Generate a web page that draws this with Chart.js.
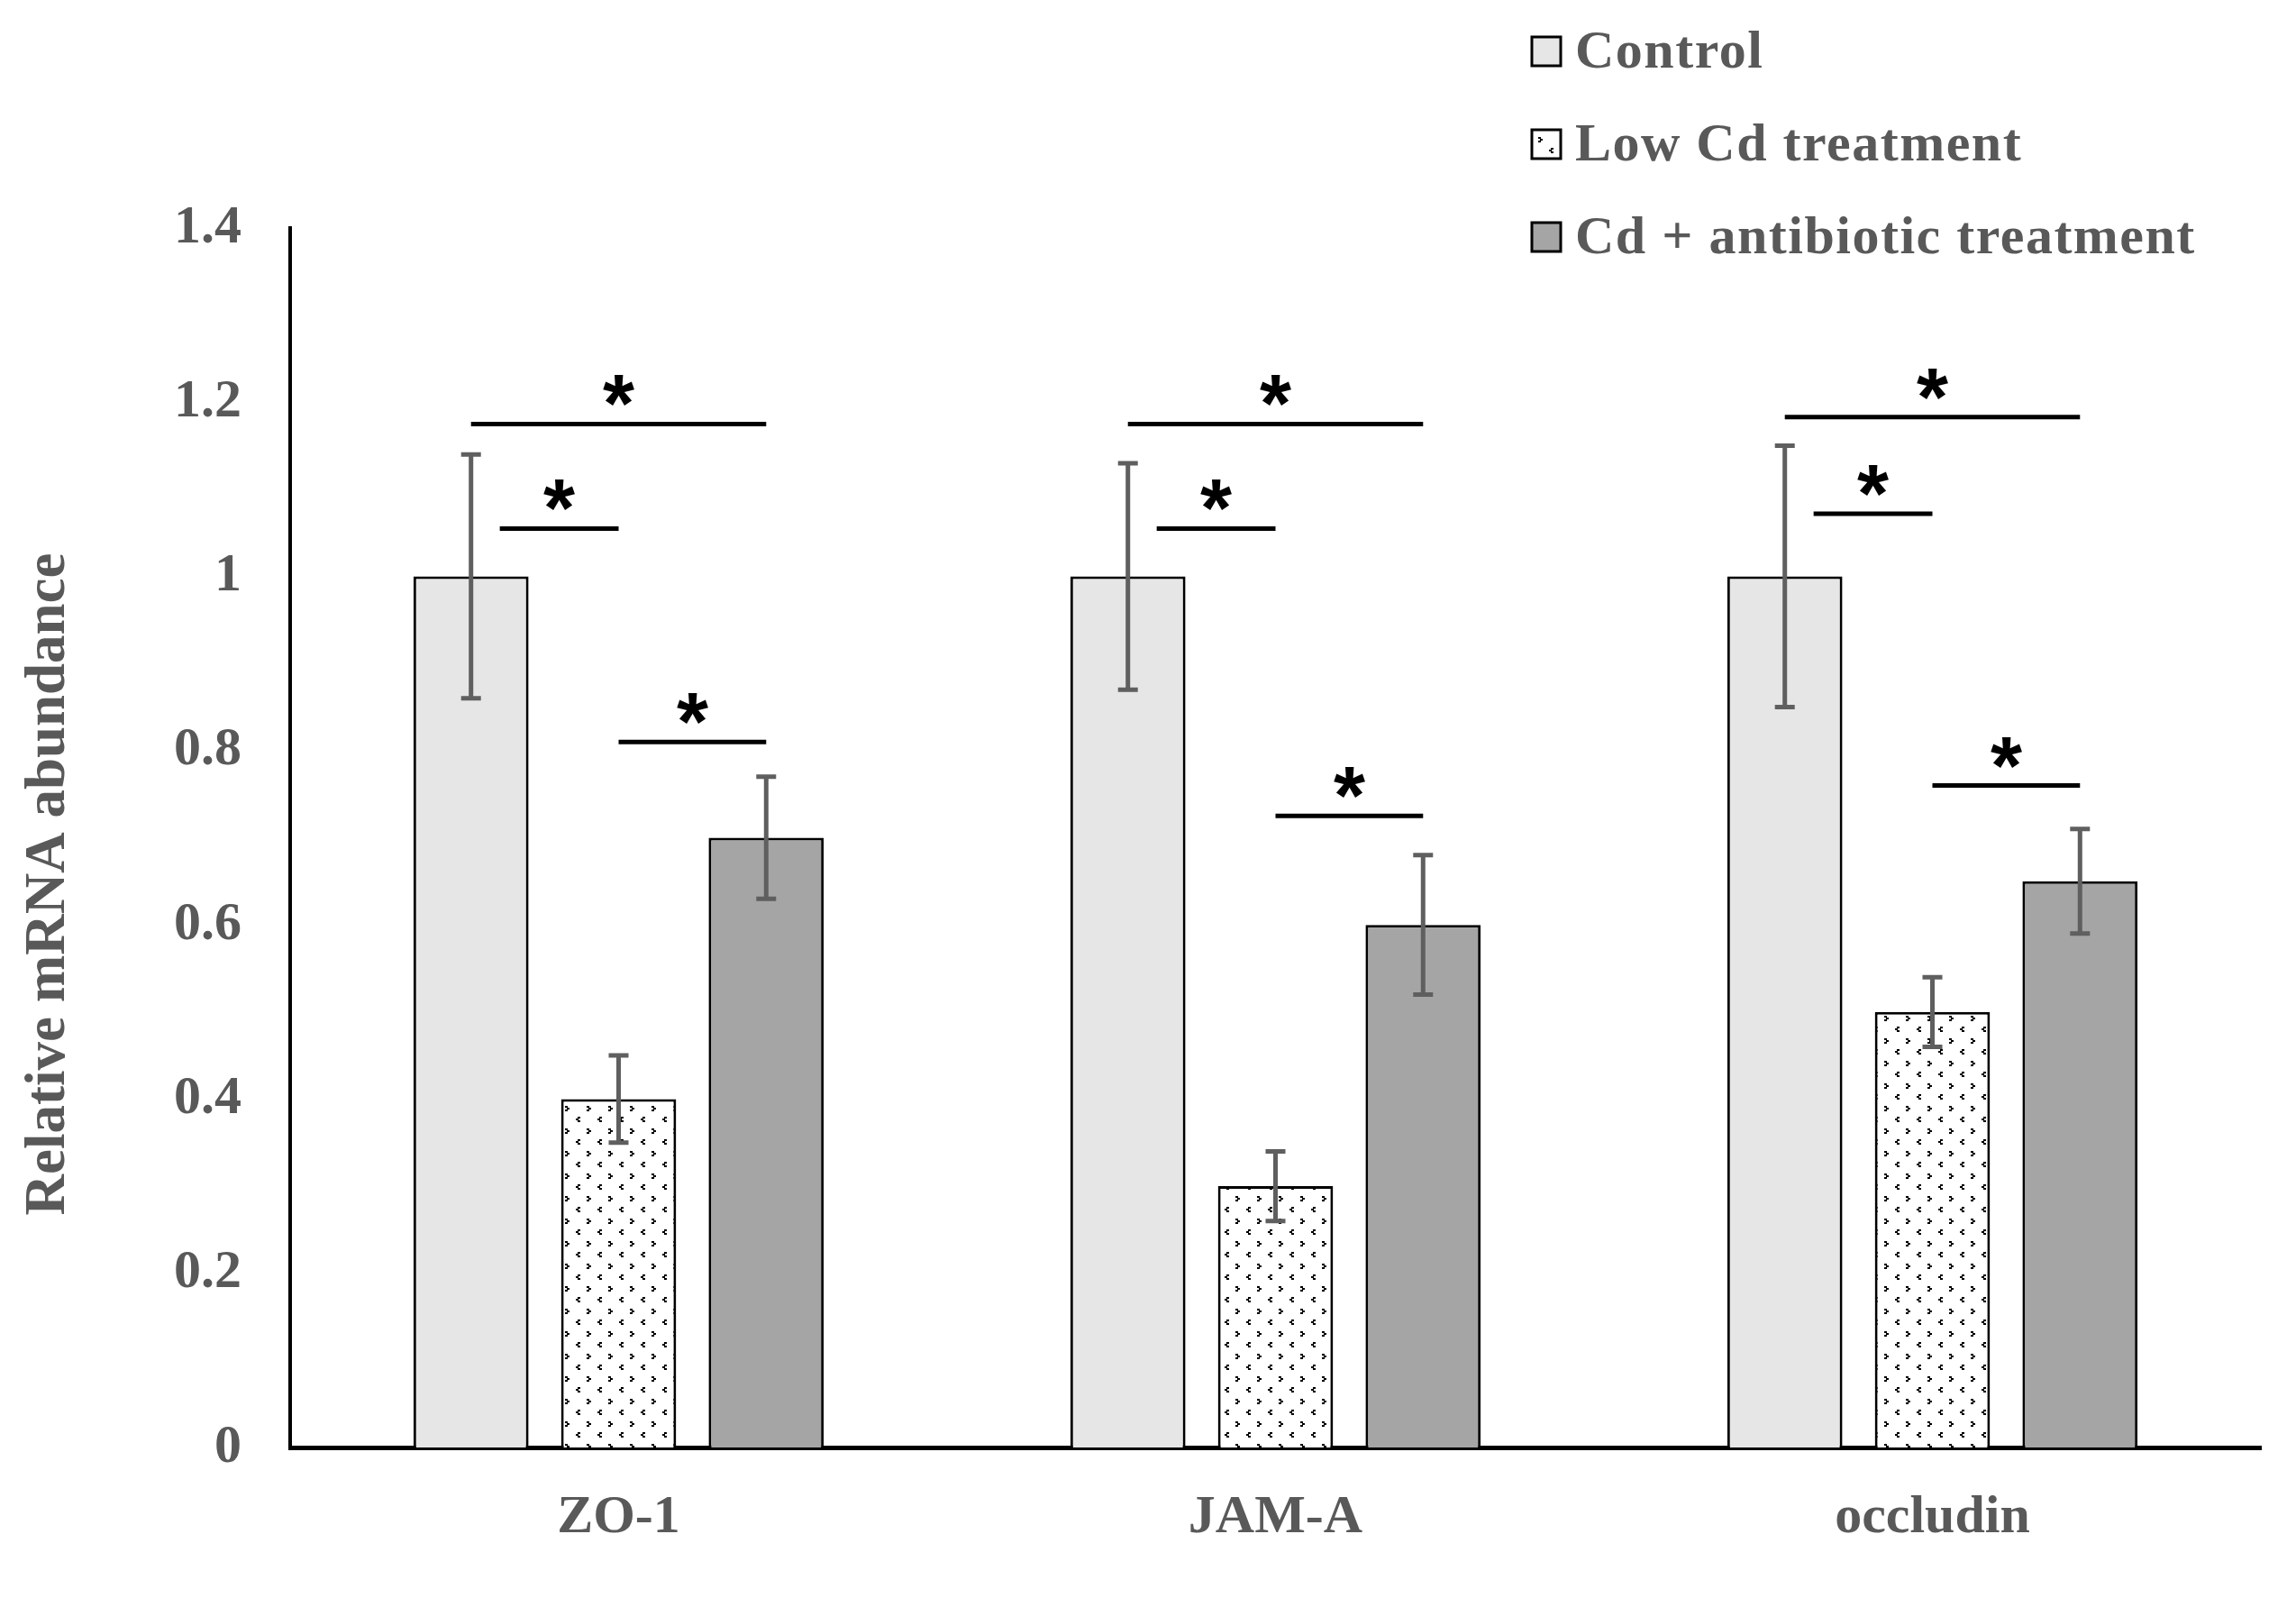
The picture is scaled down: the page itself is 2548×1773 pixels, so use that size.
<!DOCTYPE html>
<html>
<head>
<meta charset="utf-8">
<script src="https://cdn.jsdelivr.net/npm/chart.js@4/dist/chart.umd.min.js"></script>
<style>
  html, body { margin: 0; padding: 0; background: #fff; }
  canvas { display: block; }
</style>
</head>
<body>
<canvas id="grafico" width="2548" height="1773"></canvas>
<script>
/* ===== dados ===== */
const genes = ['ZO-1', 'JAM-A', 'occludin'];
const seriesNames = ['Control', 'Low Cd treatment', 'Cd + antibiotic treatment'];

const control = [1, 1, 1];
const controlErr = [0.14, 0.13, 0.15];
const lowCd = [0.4, 0.3, 0.5];
const lowCdErr = [0.05, 0.04, 0.04];
const cdAntibiotic = [0.7, 0.6, 0.65];
const cdAntibioticErr = [0.07, 0.08, 0.06];

const yTickLabels = ['0', '0.2', '0.4', '0.6', '0.8', '1', '1.2', '1.4'];
const yTitle = 'Relative mRNA abundance';

// [gene index, from series, to series, height]
const sigBars = [
  [0, 0, 2, 1.175], [0, 0, 1, 1.055], [0, 1, 2, 0.81],
  [1, 0, 2, 1.175], [1, 0, 1, 1.055], [1, 1, 2, 0.725],
  [2, 0, 2, 1.183], [2, 0, 1, 1.072], [2, 1, 2, 0.76]
];

const textGray = '#595959';
const serif = '"Liberation Serif", "Times New Roman", serif';

/* ===== padrão pontilhado da série Low Cd ===== */
function dotPattern() {
  const c = document.createElement('canvas');
  c.width = 24; c.height = 25;
  const g = c.getContext('2d');
  g.fillStyle = '#fff';
  g.fillRect(0, 0, 24, 25);
  g.fillStyle = '#000';
  // ">"
  g.fillRect(3, 2, 3, 2); g.fillRect(5, 4, 3, 2); g.fillRect(3, 6, 3, 2);
  // "<"
  g.fillRect(17, 14, 3, 2); g.fillRect(15, 16, 3, 2); g.fillRect(17, 18, 3, 2);
  return g.createPattern(c, 'repeat');
}
const dots = dotPattern();

const fills = ['#e7e6e6', dots, '#a5a5a5'];
const errs = [controlErr, lowCdErr, cdAntibioticErr];

/* ===== barras de erro, significância, título e legenda ===== */
const extras = {
  id: 'extras',
  afterDatasetsDraw(chart) {
    const ctx = chart.ctx;
    const y = chart.scales.y;
    ctx.save();
    // barras de erro
    ctx.strokeStyle = '#5f5f5f';
    ctx.lineWidth = 5;
    chart.data.datasets.forEach((ds, di) => {
      const meta = chart.getDatasetMeta(di);
      meta.data.forEach((bar, i) => {
        const top = y.getPixelForValue(ds.data[i] + errs[di][i]);
        const bot = y.getPixelForValue(ds.data[i] - errs[di][i]);
        ctx.beginPath();
        ctx.moveTo(bar.x, top); ctx.lineTo(bar.x, bot);
        ctx.moveTo(bar.x - 11, top); ctx.lineTo(bar.x + 11, top);
        ctx.moveTo(bar.x - 11, bot); ctx.lineTo(bar.x + 11, bot);
        ctx.stroke();
      });
    });
    // linhas de significância
    ctx.strokeStyle = '#000';
    ctx.fillStyle = '#000';
    ctx.lineWidth = 5;
    ctx.font = 'bold 90px "Liberation Sans", Arial, sans-serif';
    ctx.textAlign = 'center';
    ctx.textBaseline = 'alphabetic';
    sigBars.forEach(([g, a, b, v]) => {
      const barA = chart.getDatasetMeta(a).data[g];
      const barB = chart.getDatasetMeta(b).data[g];
      let x1 = barA.x;
      const x2 = barB.x;
      if (a === 0 && b === 1) x1 += barA.width * 0.25;
      const py = y.getPixelForValue(v);
      ctx.beginPath();
      ctx.moveTo(x1, py); ctx.lineTo(x2, py);
      ctx.stroke();
      ctx.fillText('*', (x1 + x2) / 2, py + 9);
    });
    ctx.restore();
  },
  afterDraw(chart) {
    const ctx = chart.ctx;
    ctx.save();
    // título do eixo y
    ctx.font = 'bold 63px ' + serif;
    ctx.fillStyle = textGray;
    ctx.textAlign = 'center';
    ctx.textBaseline = 'middle';
    ctx.translate(55, 981);
    ctx.rotate(-Math.PI / 2);
    ctx.fillText(yTitle, 0, 0);
    ctx.restore();

    // legenda
    ctx.save();
    ctx.font = 'bold 60px ' + serif;
    ctx.letterSpacing = '1.5px';
    ctx.textBaseline = 'middle';
    ctx.textAlign = 'left';
    const rows = [57, 160, 263];
    chart.data.datasets.forEach((ds, i) => {
      ctx.fillStyle = ds.backgroundColor;
      ctx.fillRect(1700, rows[i] - 16, 32, 32);
      ctx.strokeStyle = '#000';
      ctx.lineWidth = 3;
      ctx.strokeRect(1700, rows[i] - 16, 32, 32);
      ctx.fillStyle = textGray;
      ctx.fillText(ds.label, 1748, rows[i] + 2);
    });
    ctx.restore();
  }
};

const ctx1 = document.getElementById('grafico');

new Chart(ctx1, {
  type: 'bar',
  data: {
    labels: genes,
    datasets: [
      { label: seriesNames[0], data: control, backgroundColor: fills[0] },
      { label: seriesNames[1], data: lowCd, backgroundColor: fills[1] },
      { label: seriesNames[2], data: cdAntibiotic, backgroundColor: fills[2] }
    ].map(d => Object.assign(d, {
      borderColor: '#000',
      borderWidth: 3,
      categoryPercentage: 0.674,
      barPercentage: 0.78
    }))
  },
  options: {
    responsive: false,
    devicePixelRatio: 1,
    animation: false,
    layout: { padding: { top: 253, right: 39, left: 0, bottom: 0 } },
    plugins: { legend: { display: false }, tooltip: { enabled: false } },
    scales: {
      x: {
        grid: { display: false, drawTicks: false },
        border: { display: true, color: '#000', width: 5 },
        ticks: {
          color: textGray,
          font: { family: serif, size: 60, weight: 'bold' },
          padding: 42,
          maxRotation: 0
        },
        afterFit: s => { s.height = 167; }
      },
      y: {
        min: 0,
        max: 1.4,
        grid: { display: false, drawTicks: false },
        border: { display: true, color: '#000', width: 4 },
        ticks: {
          stepSize: 0.2,
          color: textGray,
          font: { family: serif, size: 60, weight: 'bold' },
          padding: 54,
          callback: (v, i) => yTickLabels[i]
        },
        afterFit: s => { s.width = 322; }
      }
    }
  },
  plugins: [extras]
});
</script>
</body>
</html>
